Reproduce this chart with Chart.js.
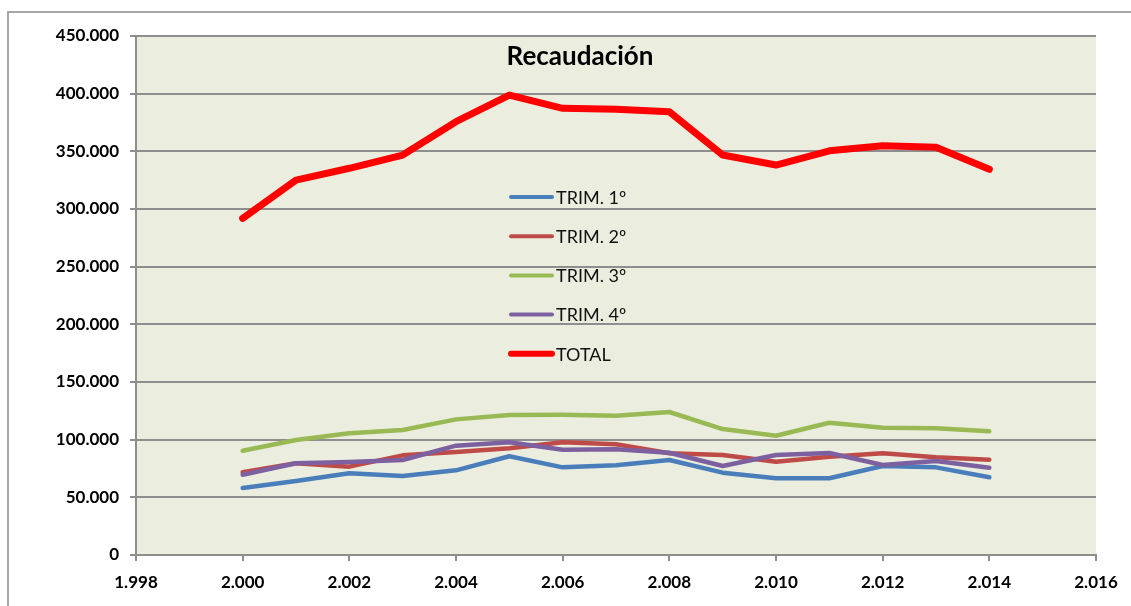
<!DOCTYPE html>
<html>
<head>
<meta charset="utf-8">
<script src="https://cdn.jsdelivr.net/npm/chart.js@4.4.1/dist/chart.umd.min.js"></script>
<style>
html,body{margin:0;padding:0;background:#fff;width:1131px;height:606px;overflow:hidden;}
#frame{position:absolute;left:7px;top:11px;width:1200px;height:700px;border-left:2px solid #a6a6a6;border-top:2px solid #a6a6a6;}
#wrap{position:absolute;left:0;top:0;width:1131px;height:606px;}
</style>
</head>
<body>
<div id="frame"></div>
<div id="wrap"><canvas id="c" width="1131" height="606"></canvas></div>
<script>
const years = [2000,2001,2002,2003,2004,2005,2006,2007,2008,2009,2010,2011,2012,2013,2014];
const trim1 = [58100,64200,70800,68500,73400,85600,76000,77800,82400,71400,66500,66500,77200,76000,67400];
const trim2 = [71700,79500,76600,86400,89300,92500,97700,96000,88200,86700,80900,85200,88200,84700,82600];
const trim3 = [90400,99700,105500,108400,117600,121400,121600,120800,124000,109200,103400,114700,110400,109800,107200];
const trim4 = [69600,79500,80600,82400,94800,97700,91300,91600,88700,77200,86700,88400,78000,81500,75700];
const total = [291900,325100,335300,346800,375700,398800,387300,386400,384300,346800,338100,350500,354900,353500,334400];
const seriesNames = ['TRIM. 1º','TRIM. 2º','TRIM. 3º','TRIM. 4º','TOTAL'];
const titleText = 'Recaudación';

function fmt(v){
  const s = String(Math.round(v));
  return s.replace(/\B(?=(\d{3})+(?!\d))/g,'.');
}
function pts(arr){ return arr.map((v,i)=>({x:years[i],y:v})); }

const bgPlugin = {
  id:'bg',
  beforeDraw(chart){
    const {ctx, chartArea:a} = chart;
    ctx.save();
    ctx.fillStyle = '#ebeedf';
    ctx.fillRect(a.left, a.top, a.right-a.left, a.bottom-a.top);
    ctx.restore();
  }
};
const titlePlugin = {
  id:'innerTitle',
  afterDraw(chart){
    const {ctx, chartArea:a} = chart;
    ctx.save();
    ctx.font = 'bold 26px Lato';
    ctx.fillStyle = '#000';
    ctx.textAlign = 'center';
    ctx.textBaseline = 'middle';
    ctx.fillText(titleText, a.left + 444, a.top + 21);
    ctx.restore();
  }
};
const legendPlugin = {
  id:'innerLegend',
  afterDraw(chart){
    const {ctx, chartArea:a} = chart;
    ctx.save();
    ctx.font = '18px Lato';
    ctx.textBaseline = 'middle';
    chart.data.datasets.forEach((ds,i)=>{
      const y = a.top + 161 + i*39.2;
      const x0 = a.left + 375;
      ctx.strokeStyle = ds.borderColor;
      ctx.lineWidth = i===4 ? 6 : 4;
      ctx.lineCap = 'round';
      ctx.beginPath(); ctx.moveTo(x0, y); ctx.lineTo(x0+41, y); ctx.stroke();
      ctx.fillStyle = '#111';
      ctx.fillText(ds.label, x0+45, y+1);
    });
    ctx.restore();
  }
};

const colors = ['#4a7ebb','#be4b48','#98b954','#7d60a0','#ff0000'];
const widths = [4.5,4.5,4.5,4.5,7];
const dataArr = [trim1,trim2,trim3,trim4,total];

new Chart(document.getElementById('c'), {
  type:'line',
  data:{
    datasets: dataArr.map((d,i)=>({
      label: seriesNames[i],
      data: pts(d),
      borderColor: colors[i],
      backgroundColor: colors[i],
      borderWidth: widths[i],
      pointRadius:0,
      tension:0,
      borderCapStyle:'round',
      borderJoinStyle:'round',
      order: 5-i,
      clip:false
    }))
  },
  options:{
    responsive:false,
    animation:false,
    layout:{padding:{left:0,right:35,top:36,bottom:0}},
    plugins:{legend:{display:false},title:{display:false},tooltip:{enabled:false}},
    scales:{
      x:{
        type:'linear',
        min:1998,max:2016,
        afterFit(s){ s.height = 51; },
        ticks:{stepSize:2, callback:(v)=>fmt(v), color:'#000', font:{family:'Lato',weight:'bold',size:17}, padding:11, maxRotation:0},
        grid:{drawOnChartArea:false, drawTicks:true, tickLength:6, color:'#8e8e8e', lineWidth:2},
        border:{color:'#8e8e8e', width:2}
      },
      y:{
        min:0,max:450000,
        afterFit(s){ s.width = 136; },
        ticks:{stepSize:50000, callback:(v)=>fmt(v), color:'#000', font:{family:'Lato',weight:'bold',size:17}, padding:11},
        grid:{color:'#8e8e8e', lineWidth:2, tickLength:6},
        border:{color:'#8e8e8e', width:2}
      }
    }
  },
  plugins:[bgPlugin,titlePlugin,legendPlugin]
});
</script>
</body>
</html>
